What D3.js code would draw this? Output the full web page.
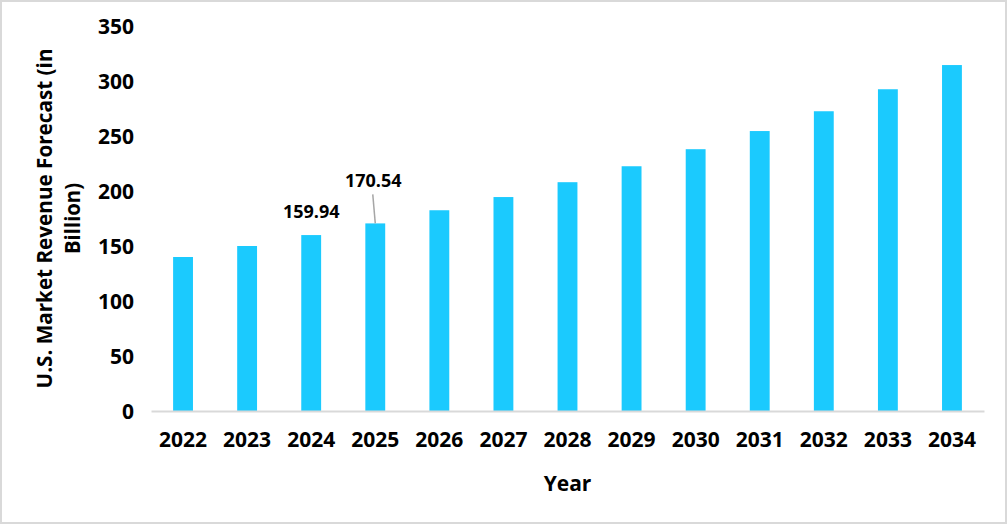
<!DOCTYPE html>
<html>
<head>
<meta charset="utf-8">
<script src="https://cdn.jsdelivr.net/npm/d3@7"></script>
<style>
  body { margin: 0; background: #fff; }
  text { font-family: "Open Sans", "Noto Sans", sans-serif; font-weight: bold; fill: #000; }
</style>
</head>
<body>
<svg width="1008" height="526"></svg>
<script>
const years = ["2022","2023","2024","2025","2026","2027","2028","2029","2030","2031","2032","2033","2034"];
const revenue = [140, 150, 159.94, 170.54, 182.5, 194.5, 208, 222.5, 238, 254.5, 272.5, 292.5, 314.5];
const labelled = ["2024", "2025"];
const yTicks = [0, 50, 100, 150, 200, 250, 300, 350];

const DATA = years.map((y, i) => ({year: y, value: revenue[i]}));

const svg = d3.select("svg");

// outer frame
svg.append("rect")
  .attr("x", 1).attr("y", 1)
  .attr("width", 1005).attr("height", 522)
  .attr("fill", "none")
  .attr("stroke", "#d9d9d9")
  .attr("stroke-width", 2);

const plotL = 151, plotR = 984, plotT = 26, plotB = 411;

const xScale = d3.scaleBand()
  .domain(years)
  .range([plotL, plotR])
  .paddingInner(0.69)
  .paddingOuter(0.345);

const yScale = d3.scaleLinear().domain([0, 350]).range([plotB, plotT]);

// y tick labels (no axis line)
const yAxis = svg.append("g")
  .attr("transform", `translate(${plotL},0)`)
  .call(d3.axisLeft(yScale).tickValues(yTicks).tickSize(0).tickPadding(17));
yAxis.select(".domain").remove();
yAxis.selectAll("text")
  .attr("font-size", 21)
  .attr("font-family", null)
  .attr("dy", "0.36em");

// bars
svg.selectAll(".bar")
  .data(DATA)
  .enter()
  .append("rect")
  .classed("bar", true)
  .attr("x", d => xScale(d.year))
  .attr("width", xScale.bandwidth())
  .attr("y", d => yScale(d.value))
  .attr("height", d => plotB - yScale(d.value))
  .attr("fill", "#1bcafe");

// x axis
const xAxis = svg.append("g")
  .attr("transform", `translate(0,${plotB})`)
  .call(d3.axisBottom(xScale).tickSize(0).tickPadding(21));
xAxis.select(".domain")
  .attr("stroke", "#d9d9d9")
  .attr("stroke-width", 2);
xAxis.selectAll("text")
  .attr("font-size", 21)
  .attr("font-family", null);

// data labels
const lab = DATA.filter(d => labelled.includes(d.year));
lab.forEach(d => {
  const cx = xScale(d.year) + xScale.bandwidth() / 2;
  if (d.year === "2025") {
    svg.append("line")
      .attr("x1", cx - 2.5).attr("y1", yScale(d.value) - 29)
      .attr("x2", cx).attr("y2", yScale(d.value))
      .attr("stroke", "#a6a6a6")
      .attr("stroke-width", 1.5);
    svg.append("text")
      .attr("x", cx - 2).attr("y", yScale(d.value) - 43)
      .attr("text-anchor", "middle")
      .attr("dominant-baseline", "central")
      .attr("font-size", 18)
      .text(d.value.toFixed(2));
  } else {
    svg.append("text")
      .attr("x", cx).attr("y", yScale(d.value) - 24)
      .attr("text-anchor", "middle")
      .attr("dominant-baseline", "central")
      .attr("font-size", 18)
      .text(d.value.toFixed(2));
  }
});

// axis titles
svg.append("text")
  .attr("x", (plotL + plotR) / 2).attr("y", 483)
  .attr("text-anchor", "middle")
  .attr("dominant-baseline", "central")
  .attr("font-size", 21)
  .text("Year");

const cy = (plotT + plotB) / 2;
svg.append("text")
  .attr("transform", `translate(44,${cy}) rotate(-90)`)
  .attr("text-anchor", "middle")
  .attr("dominant-baseline", "central")
  .attr("font-size", 21)
  .attr("textLength", 340)
  .attr("lengthAdjust", "spacingAndGlyphs")
  .text("U.S. Market Revenue Forecast (in");
svg.append("text")
  .attr("transform", `translate(72,${cy}) rotate(-90)`)
  .attr("text-anchor", "middle")
  .attr("dominant-baseline", "central")
  .attr("font-size", 21)
  .attr("textLength", 71)
  .attr("lengthAdjust", "spacingAndGlyphs")
  .text("Billion)");
</script>
</body>
</html>
